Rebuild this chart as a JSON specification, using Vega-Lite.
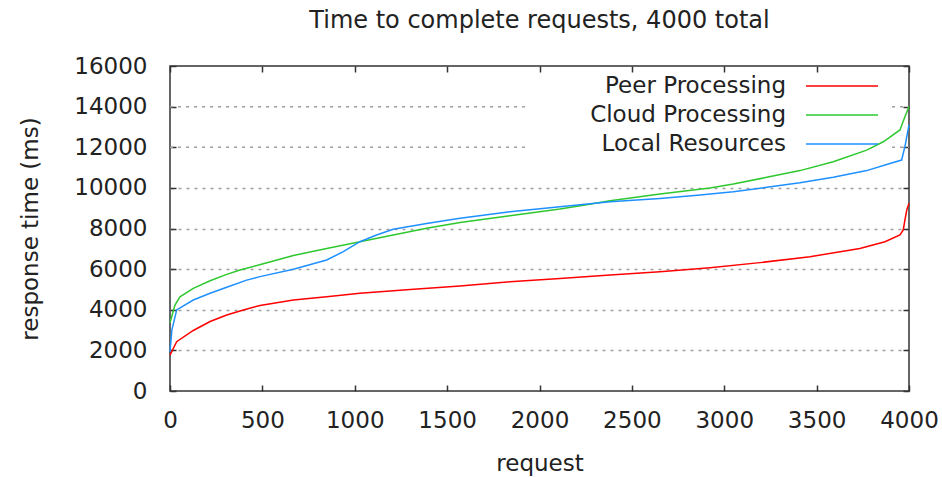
{
  "$schema": "https://vega.github.io/schema/vega-lite/v6.json",
  "width": 739,
  "height": 325,
  "autosize": "none",
  "padding": {"left": 170, "top": 66, "right": 33, "bottom": 86},
  "background": "white",
  "config": {
    "font": "DejaVu Sans",
    "view": {"stroke": "#333333", "strokeWidth": 1.5},
    "axis": {"labelFont": "DejaVu Sans", "titleFont": "DejaVu Sans", "labelColor": "#222222", "titleColor": "#222222", "titleFontWeight": "normal", "domain": false, "tickColor": "#333333", "tickWidth": 1.5, "labelFlush": false, "format": "d"}
  },
  "title": {"text": "Time to complete requests, 4000 total", "fontSize": 24, "fontWeight": "normal", "font": "DejaVu Sans", "color": "#222222", "anchor": "middle", "offset": 22},
  "datasets": {
    "grid": [{"gridValue": 12000}, {"gridValue": 14000}],
    "responses": [
    {"request": 0, "series": "Peer Processing", "time": 1770},
    {"request": 36, "series": "Peer Processing", "time": 2430},
    {"request": 126, "series": "Peer Processing", "time": 2980},
    {"request": 217, "series": "Peer Processing", "time": 3420},
    {"request": 307, "series": "Peer Processing", "time": 3740},
    {"request": 397, "series": "Peer Processing", "time": 3990},
    {"request": 487, "series": "Peer Processing", "time": 4210},
    {"request": 668, "series": "Peer Processing", "time": 4480},
    {"request": 848, "series": "Peer Processing", "time": 4640},
    {"request": 1028, "series": "Peer Processing", "time": 4810},
    {"request": 1300, "series": "Peer Processing", "time": 5000},
    {"request": 1570, "series": "Peer Processing", "time": 5170},
    {"request": 1840, "series": "Peer Processing", "time": 5380},
    {"request": 2111, "series": "Peer Processing", "time": 5540},
    {"request": 2382, "series": "Peer Processing", "time": 5710},
    {"request": 2652, "series": "Peer Processing", "time": 5870},
    {"request": 2923, "series": "Peer Processing", "time": 6070},
    {"request": 3193, "series": "Peer Processing", "time": 6320},
    {"request": 3464, "series": "Peer Processing", "time": 6610},
    {"request": 3734, "series": "Peer Processing", "time": 7020},
    {"request": 3870, "series": "Peer Processing", "time": 7350},
    {"request": 3951, "series": "Peer Processing", "time": 7680},
    {"request": 3969, "series": "Peer Processing", "time": 7930},
    {"request": 3978, "series": "Peer Processing", "time": 8420},
    {"request": 3988, "series": "Peer Processing", "time": 8910},
    {"request": 4000, "series": "Peer Processing", "time": 9250},
    {"request": 0, "series": "Cloud Processing", "time": 3360},
    {"request": 27, "series": "Cloud Processing", "time": 4230},
    {"request": 54, "series": "Cloud Processing", "time": 4640},
    {"request": 126, "series": "Cloud Processing", "time": 5050},
    {"request": 217, "series": "Cloud Processing", "time": 5430},
    {"request": 307, "series": "Cloud Processing", "time": 5740},
    {"request": 379, "series": "Cloud Processing", "time": 5960},
    {"request": 500, "series": "Cloud Processing", "time": 6250},
    {"request": 668, "series": "Cloud Processing", "time": 6670},
    {"request": 848, "series": "Cloud Processing", "time": 7020},
    {"request": 1028, "series": "Cloud Processing", "time": 7350},
    {"request": 1208, "series": "Cloud Processing", "time": 7680},
    {"request": 1389, "series": "Cloud Processing", "time": 8010},
    {"request": 1570, "series": "Cloud Processing", "time": 8290},
    {"request": 1840, "series": "Cloud Processing", "time": 8630},
    {"request": 2111, "series": "Cloud Processing", "time": 8960},
    {"request": 2246, "series": "Cloud Processing", "time": 9160},
    {"request": 2382, "series": "Cloud Processing", "time": 9370},
    {"request": 2652, "series": "Cloud Processing", "time": 9700},
    {"request": 2923, "series": "Cloud Processing", "time": 9990},
    {"request": 3049, "series": "Cloud Processing", "time": 10190},
    {"request": 3230, "series": "Cloud Processing", "time": 10520},
    {"request": 3410, "series": "Cloud Processing", "time": 10850},
    {"request": 3590, "series": "Cloud Processing", "time": 11290},
    {"request": 3771, "series": "Cloud Processing", "time": 11860},
    {"request": 3861, "series": "Cloud Processing", "time": 12270},
    {"request": 3951, "series": "Cloud Processing", "time": 12850},
    {"request": 3978, "series": "Cloud Processing", "time": 13500},
    {"request": 4000, "series": "Cloud Processing", "time": 14000},
    {"request": 0, "series": "Local Resources", "time": 1920},
    {"request": 10, "series": "Local Resources", "time": 3000},
    {"request": 36, "series": "Local Resources", "time": 3990},
    {"request": 126, "series": "Local Resources", "time": 4480},
    {"request": 217, "series": "Local Resources", "time": 4810},
    {"request": 307, "series": "Local Resources", "time": 5110},
    {"request": 415, "series": "Local Resources", "time": 5460},
    {"request": 487, "series": "Local Resources", "time": 5630},
    {"request": 668, "series": "Local Resources", "time": 5990},
    {"request": 848, "series": "Local Resources", "time": 6450},
    {"request": 938, "series": "Local Resources", "time": 6860},
    {"request": 1028, "series": "Local Resources", "time": 7350},
    {"request": 1118, "series": "Local Resources", "time": 7680},
    {"request": 1208, "series": "Local Resources", "time": 7960},
    {"request": 1389, "series": "Local Resources", "time": 8250},
    {"request": 1570, "series": "Local Resources", "time": 8500},
    {"request": 1840, "series": "Local Resources", "time": 8830},
    {"request": 2111, "series": "Local Resources", "time": 9070},
    {"request": 2382, "series": "Local Resources", "time": 9320},
    {"request": 2652, "series": "Local Resources", "time": 9480},
    {"request": 2869, "series": "Local Resources", "time": 9650},
    {"request": 3049, "series": "Local Resources", "time": 9810},
    {"request": 3230, "series": "Local Resources", "time": 10030},
    {"request": 3410, "series": "Local Resources", "time": 10250},
    {"request": 3590, "series": "Local Resources", "time": 10520},
    {"request": 3771, "series": "Local Resources", "time": 10850},
    {"request": 3897, "series": "Local Resources", "time": 11200},
    {"request": 3960, "series": "Local Resources", "time": 11370},
    {"request": 3978, "series": "Local Resources", "time": 12030},
    {"request": 4000, "series": "Local Resources", "time": 13100}
    ]
  },
  "layer": [
    {
      "data": {"name": "grid"},
      "mark": {"type": "rule", "stroke": "#a0a0a0", "strokeWidth": 1.5, "strokeDash": [3, 5]},
      "encoding": {
        "x": {"datum": 0, "type": "quantitative", "scale": {"domain": [0, 4000], "nice": false}, "axis": null},
        "x2": {"datum": 1921},
        "y": {"field": "gridValue", "type": "quantitative", "scale": {"domain": [0, 16000], "nice": false}, "axis": null}
      }
    },
    {
      "data": {"name": "grid"},
      "mark": {"type": "rule", "stroke": "#a0a0a0", "strokeWidth": 1.5, "strokeDash": [3, 5]},
      "encoding": {
        "x": {"datum": 3908, "type": "quantitative", "scale": {"domain": [0, 4000], "nice": false}, "axis": null},
        "x2": {"datum": 4000},
        "y": {"field": "gridValue", "type": "quantitative", "scale": {"domain": [0, 16000], "nice": false}, "axis": null}
      }
    },
    {
      "data": {"name": "responses"},
      "mark": {"type": "line", "strokeWidth": 1.5, "interpolate": "linear"},
      "encoding": {
        "x": {"field": "request", "type": "quantitative", "scale": {"domain": [0, 4000], "nice": false},
          "axis": {"orient": "bottom", "values": [0, 500, 1000, 1500, 2000, 2500, 3000, 3500, 4000], "grid": false, "tickSize": -6, "labelPadding": 24, "labelFontSize": 23, "title": "request", "titleFontSize": 23, "titlePadding": 20}},
        "y": {"field": "time", "type": "quantitative", "scale": {"domain": [0, 16000], "nice": false},
          "axis": {"orient": "left", "values": [0, 2000, 4000, 6000, 8000, 10000, 12000, 14000, 16000], "grid": true, "gridColor": "#a0a0a0", "gridDash": [3, 5], "gridWidth": 1.5,
            "gridOpacity": {"condition": {"test": "datum.value >= 12000 || datum.value <= 0", "value": 0}, "value": 1},
            "tickSize": -6, "labelPadding": 29, "labelFontSize": 23, "title": "response time (ms)", "titleFontSize": 23, "titlePadding": 31}},
        "color": {"field": "series", "type": "nominal",
          "scale": {"domain": ["Peer Processing", "Cloud Processing", "Local Resources"], "range": ["#ff0000", "#2ec82e", "#1e90ff"]},
          "legend": {"orient": "none", "legendX": 355, "legendY": 3, "title": null, "symbolType": "M-3,0H3", "symbolSize": 576, "symbolStrokeWidth": 1.5, "symbolOffset": 300, "labelFontSize": 23, "labelFont": "DejaVu Sans", "labelColor": "#222222", "labelAlign": "right", "labelOffset": -69, "labelLimit": 400, "rowPadding": 4, "padding": 4}}
      }
    },
    {
      "data": {"name": "responses"},
      "mark": {"type": "point", "opacity": 0},
      "encoding": {
        "x": {"field": "request", "type": "quantitative", "scale": {"domain": [0, 4000], "nice": false},
          "axis": {"orient": "top", "values": [0, 500, 1000, 1500, 2000, 2500, 3000, 3500, 4000], "grid": false, "labels": false, "tickSize": -6, "title": null}},
        "y": {"field": "time", "type": "quantitative", "scale": {"domain": [0, 16000], "nice": false},
          "axis": {"orient": "right", "values": [0, 2000, 4000, 6000, 8000, 10000, 12000, 14000, 16000], "grid": false, "labels": false, "tickSize": -6, "title": null}}
      }
    }
  ],
  "resolve": {"axis": {"x": "independent", "y": "independent"}}
}
